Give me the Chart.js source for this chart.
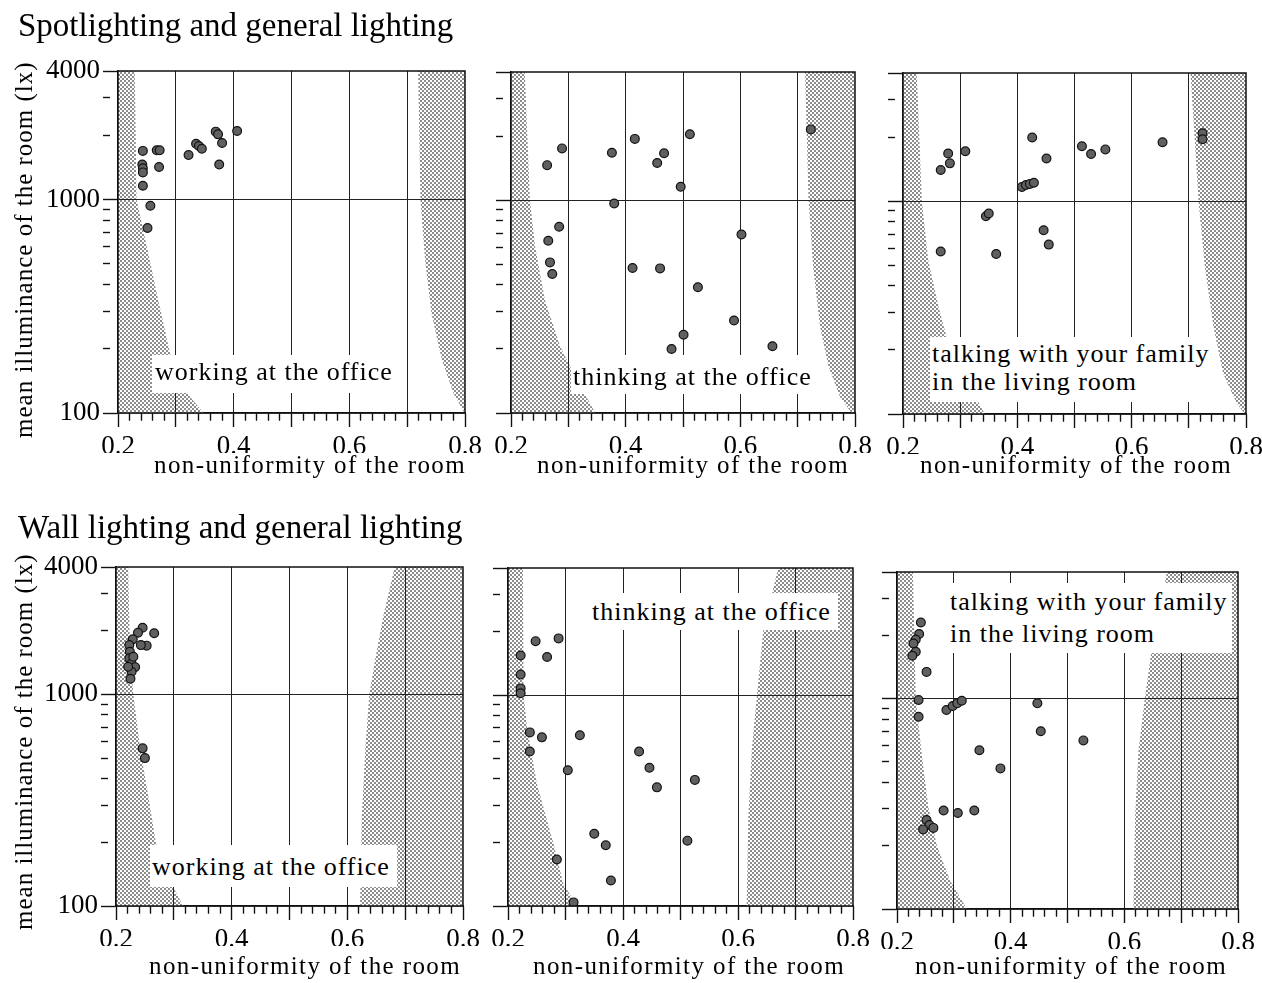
<!DOCTYPE html>
<html>
<head>
<meta charset="utf-8">
<script src="https://cdn.jsdelivr.net/npm/chart.js@4.4.1/dist/chart.umd.min.js"></script>
<style>
body{margin:0;background:#fff;width:1262px;height:983px;position:relative;overflow:hidden;font-family:"Liberation Serif","Times New Roman",serif;color:#000}
canvas{position:absolute;left:0;top:0}
.t{position:absolute;white-space:nowrap;line-height:1}
.box{position:absolute;background:#fff}
</style>
</head>
<body>
<script>
// ticks
const xMajor = [0.2, 0.3, 0.4, 0.5, 0.6, 0.7, 0.8];
const xLabels = [0.2, 0.4, 0.6, 0.8];
const yTicks = [100, 200, 300, 400, 500, 600, 700, 800, 900, 1000, 2000, 3000, 4000];
const yLabels = [100, 1000, 4000];
const xTicks = [];
for (let i = 0; i <= 30; i++) xTicks.push(Math.round((0.2 + i * 0.02) * 100) / 100);

// spotlighting + general lighting
const spotWorkX = [0.243, 0.267, 0.272, 0.242, 0.243, 0.243, 0.271, 0.243, 0.256, 0.251, 0.322, 0.335, 0.340, 0.345, 0.369, 0.373, 0.380, 0.375, 0.406];
const spotWorkY = [1690, 1700, 1700, 1460, 1400, 1340, 1420, 1160, 935, 735, 1615, 1825, 1780, 1730, 2080, 2020, 1840, 1460, 2095];

const spotThinkX = [0.263, 0.289, 0.376, 0.416, 0.455, 0.467, 0.512, 0.496, 0.723, 0.380, 0.284, 0.265, 0.268, 0.272, 0.412, 0.460, 0.602, 0.526, 0.589, 0.501, 0.480, 0.656];
const spotThinkY = [1460, 1750, 1670, 1940, 1495, 1660, 2040, 1155, 2150, 965, 750, 645, 510, 450, 480, 478, 690, 390, 272, 233, 200, 206];

const spotTalkX = [0.266, 0.279, 0.282, 0.309, 0.426, 0.451, 0.408, 0.415, 0.422, 0.429, 0.513, 0.529, 0.554, 0.654, 0.724, 0.724, 0.345, 0.350, 0.266, 0.363, 0.446, 0.455];
const spotTalkY = [1400, 1675, 1505, 1715, 1990, 1585, 1165, 1190, 1205, 1220, 1810, 1665, 1750, 1890, 2085, 1955, 850, 875, 580, 565, 730, 625];

// wall lighting + general lighting
const wallWorkX = [0.246, 0.238, 0.266, 0.229, 0.253, 0.243, 0.223, 0.224, 0.223, 0.227, 0.233, 0.227, 0.225, 0.230, 0.221, 0.246, 0.250];
const wallWorkY = [2065, 1955, 1945, 1820, 1700, 1710, 1710, 1590, 1480, 1400, 1345, 1280, 1185, 1505, 1350, 556, 500];

const wallThinkX = [0.222, 0.222, 0.222, 0.222, 0.248, 0.288, 0.268, 0.238, 0.259, 0.238, 0.325, 0.304, 0.428, 0.446, 0.459, 0.525, 0.350, 0.370, 0.512, 0.285, 0.379, 0.314];
const wallThinkY = [1540, 1250, 1075, 1020, 1800, 1855, 1515, 665, 630, 540, 645, 440, 540, 452, 365, 396, 220, 194, 204, 166, 132, 104];

const wallTalkX = [0.242, 0.239, 0.233, 0.229, 0.233, 0.227, 0.252, 0.238, 0.238, 0.287, 0.298, 0.306, 0.314, 0.345, 0.282, 0.307, 0.336, 0.252, 0.257, 0.246, 0.264, 0.447, 0.453, 0.528, 0.382];
const wallTalkY = [2300, 2030, 1910, 1830, 1670, 1600, 1340, 985, 820, 883, 922, 950, 977, 568, 294, 286, 294, 265, 251, 239, 243, 950, 700, 633, 466];

// shaded zones (outline of each region)
const spotWorkLeftX = [0.2, 0.229, 0.232, 0.250, 0.267, 0.290, 0.319, 0.348, 0.2];
const spotWorkLeftY = [4000, 4000, 1000, 600, 364, 190, 124, 100, 100];
const spotWorkRightX = [0.719, 0.723, 0.731, 0.742, 0.760, 0.780, 0.799, 0.8, 0.8];
const spotWorkRightY = [4000, 1000, 521, 293, 177, 124, 100, 100, 4000];

const spotThinkLeftX = [0.2, 0.224, 0.233, 0.242, 0.259, 0.286, 0.315, 0.347, 0.2];
const spotThinkLeftY = [4000, 4000, 1000, 604, 340, 205, 143, 100, 100];
const spotThinkRightX = [0.713, 0.719, 0.727, 0.739, 0.754, 0.774, 0.794, 0.8, 0.8];
const spotThinkRightY = [4000, 1000, 487, 254, 165, 119, 100, 100, 4000];

const spotTalkLeftX = [0.2, 0.224, 0.233, 0.244, 0.262, 0.276, 0.311, 0.343, 0.2];
const spotTalkLeftY = [4000, 4000, 1000, 531, 320, 231, 145, 100, 100];
const spotTalkRightX = [0.703, 0.717, 0.728, 0.743, 0.760, 0.784, 0.798, 0.8, 0.8];
const spotTalkRightY = [4000, 1000, 494, 258, 155, 112, 100, 100, 4000];

const wallWorkLeftX = [0.2, 0.221, 0.224, 0.230, 0.242, 0.256, 0.269, 0.299, 0.316, 0.2];
const wallWorkLeftY = [4000, 4000, 1620, 1000, 546, 329, 198, 123, 100, 100];
const wallWorkRightX = [0.682, 0.662, 0.648, 0.638, 0.631, 0.625, 0.622, 0.8, 0.8];
const wallWorkRightY = [4000, 2330, 1454, 1000, 546, 264, 100, 100, 4000];

const wallThinkLeftX = [0.2, 0.226, 0.227, 0.233, 0.250, 0.279, 0.296, 0.320, 0.2];
const wallThinkLeftY = [4000, 4000, 1000, 708, 382, 198, 128, 100, 100];
const wallThinkRightX = [0.670, 0.644, 0.633, 0.624, 0.618, 0.615, 0.8, 0.8];
const wallThinkRightY = [4000, 2030, 1000, 549, 265, 100, 100, 4000];

const wallTalkLeftX = [0.2, 0.228, 0.233, 0.244, 0.255, 0.270, 0.293, 0.323, 0.2];
const wallTalkLeftY = [4000, 4000, 1000, 530, 306, 201, 137, 100, 100];
const wallTalkRightX = [0.675, 0.648, 0.636, 0.625, 0.619, 0.616, 0.8, 0.8];
const wallTalkRightY = [4000, 1700, 1000, 570, 275, 100, 100, 4000];

const W = 1262, H = 983, YW = 110, XH = 40;
const FONT = '"Liberation Serif", "Times New Roman", serif';

const isMajorX = v => xMajor.some(m => Math.abs(m - v) < 1e-6);
const isLabelX = v => xLabels.some(m => Math.abs(m - v) < 1e-6);
const toPts = (xs, ys) => xs.map((x, i) => ({x: x, y: ys[i]}));

// redraw grid between the shading and the dots
const gridOverShade = {
  id: 'gridOverShade',
  beforeDatasetDraw(chart, args) {
    if (args.index !== 0) return;
    chart.scales.x.drawGrid(chart.chartArea);
    chart.scales.y.drawGrid(chart.chartArea);
  }
};
const frame = {
  id: 'frame',
  afterDraw(chart) {
    const a = chart.chartArea, c = chart.ctx;
    c.save();
    c.strokeStyle = '#111';
    c.lineWidth = 1.5;
    c.strokeRect(a.left, a.top, a.right - a.left, a.bottom - a.top);
    c.restore();
  }
};

function panel(p) {
  const cv = document.createElement('canvas');
  cv.width = W; cv.height = H;
  document.body.appendChild(cv);
  const ctx = cv.getContext('2d');
  // stipple: 2px checker
  const pc = document.createElement('canvas');
  pc.width = 4; pc.height = 4;
  const g = pc.getContext('2d');
  g.fillStyle = '#fff'; g.fillRect(0, 0, 4, 4);
  g.fillStyle = '#8c8c8c'; g.fillRect(0, 0, 2, 2); g.fillRect(2, 2, 2, 2);
  const dots = ctx.createPattern(pc, 'repeat');

  const datasets = [{
    data: toPts(p.xs, p.ys),
    showLine: false,
    pointRadius: 4.4,
    pointBackgroundColor: '#606060',
    pointBorderColor: '#111',
    pointBorderWidth: 1.2
  }];
  p.zones.forEach(z => datasets.push({
    data: toPts(z[0], z[1]),
    fill: 'shape',
    backgroundColor: dots,
    borderColor: 'rgba(0,0,0,0)',
    borderWidth: 0,
    pointRadius: 0,
    tension: 0
  }));

  new Chart(cv, {
    type: 'line',
    data: {datasets: datasets},
    options: {
      responsive: false,
      animation: false,
      events: [],
      layout: {padding: {left: p.l - YW, top: p.t, right: W - p.r, bottom: H - p.b - XH}},
      plugins: {legend: {display: false}, tooltip: {enabled: false}},
      scales: {
        x: {
          type: 'linear', min: 0.2, max: 0.8,
          afterBuildTicks: s => { s.ticks = xTicks.map(v => ({value: v})); },
          afterFit: s => { s.height = XH; s.paddingLeft = 0; s.paddingRight = 0; },
          ticks: {
            autoSkip: false, maxRotation: 0, padding: 4, color: '#000',
            font: {family: FONT, size: 27},
            callback: v => isLabelX(v) ? v.toFixed(1) : ''
          },
          grid: {
            color: c => (c.tick && isMajorX(c.tick.value) && c.tick.value > 0.21 && c.tick.value < 0.79) ? '#222' : 'rgba(0,0,0,0)',
            lineWidth: 1,
            tickLength: 14,
            tickColor: '#111',
            tickWidth: 1.2,
            tickBorderDash: c => (c.tick && isMajorX(c.tick.value)) ? [] : [7, 40]
          },
          border: {color: '#111', width: 1.5}
        },
        y: {
          type: 'logarithmic', min: 100, max: 4000,
          afterBuildTicks: s => { s.ticks = yTicks.map(v => ({value: v})); },
          afterFit: s => { s.width = YW; s.paddingTop = 0; s.paddingBottom = 0; },
          ticks: {
            autoSkip: false, padding: 3, color: '#000',
            font: {family: FONT, size: 27},
            callback: v => (p.yLab && yLabels.includes(v)) ? String(v) : ''
          },
          grid: {
            color: c => (c.tick && c.tick.value === 1000) ? '#222' : 'rgba(0,0,0,0)',
            lineWidth: 1,
            tickLength: 15,
            tickColor: '#111',
            tickWidth: 1.2,
            tickBorderDash: c => (c.tick && yLabels.includes(c.tick.value)) ? [] : [7, 40]
          },
          border: {color: '#111', width: 1.5}
        }
      }
    },
    plugins: [gridOverShade, frame]
  });
}

panel({l: 118, t: 71, r: 465, b: 413, yLab: true, xs: spotWorkX, ys: spotWorkY,
  zones: [[spotWorkLeftX, spotWorkLeftY], [spotWorkRightX, spotWorkRightY]]});
panel({l: 511, t: 72, r: 855, b: 413, yLab: false, xs: spotThinkX, ys: spotThinkY,
  zones: [[spotThinkLeftX, spotThinkLeftY], [spotThinkRightX, spotThinkRightY]]});
panel({l: 903, t: 73, r: 1246, b: 414, yLab: false, xs: spotTalkX, ys: spotTalkY,
  zones: [[spotTalkLeftX, spotTalkLeftY], [spotTalkRightX, spotTalkRightY]]});
panel({l: 116, t: 567, r: 463, b: 906, yLab: true, xs: wallWorkX, ys: wallWorkY,
  zones: [[wallWorkLeftX, wallWorkLeftY], [wallWorkRightX, wallWorkRightY]]});
panel({l: 508, t: 568, r: 853, b: 906, yLab: false, xs: wallThinkX, ys: wallThinkY,
  zones: [[wallThinkLeftX, wallThinkLeftY], [wallThinkRightX, wallThinkRightY]]});
panel({l: 897, t: 572, r: 1238, b: 909, yLab: false, xs: wallTalkX, ys: wallTalkY,
  zones: [[wallTalkLeftX, wallTalkLeftY], [wallTalkRightX, wallTalkRightY]]});

// text and label boxes
function box(l, t, r, b) {
  const d = document.createElement('div');
  d.className = 'box';
  d.style.left = l + 'px'; d.style.top = t + 'px';
  d.style.width = (r - l) + 'px'; d.style.height = (b - t) + 'px';
  document.body.appendChild(d);
}
function text(s, x, base, size, sp, rot) {
  const d = document.createElement('div');
  d.className = 't';
  d.textContent = s;
  d.style.fontSize = size + 'px';
  d.style.letterSpacing = sp + 'px';
  if (rot) {
    d.style.transformOrigin = '0 0';
    d.style.transform = 'rotate(-90deg)';
    d.style.left = (base - 0.8375 * size) + 'px';
    d.style.top = x + 'px';
  } else {
    d.style.left = x + 'px';
    d.style.top = (base - 0.8375 * size) + 'px';
  }
  document.body.appendChild(d);
}

text('Spotlighting and general lighting', 18, 37, 33, 0);
text('Wall lighting and general lighting', 18, 539, 33, 0);

text('mean illuminance of the room (lx)', 438, 32, 25, 1, true);
text('mean illuminance of the room (lx)', 930, 32, 25, 1, true);

[[154, 473], [537, 473], [920, 473], [149, 974], [533, 974], [915, 974]].forEach(a =>
  text('non-uniformity of the room', a[0], a[1], 25, 1.4));

box(152, 355, 397, 393); text('working at the office', 155, 381, 26, 1);
box(571, 355, 813, 394); text('thinking at the office', 573, 386, 26, 1);
box(930, 337, 1213, 402); text('talking with your family', 932, 363, 26, 1); text('in the living room', 932, 391, 26, 1);
box(150, 845, 397, 887); text('working at the office', 152, 876, 26, 1);
box(588, 593, 838, 630); text('thinking at the office', 592, 621, 26, 1);
box(947, 583, 1232, 653); text('talking with your family', 950, 611, 26, 1); text('in the living room', 950, 643, 26, 1);
</script>
</body>
</html>
